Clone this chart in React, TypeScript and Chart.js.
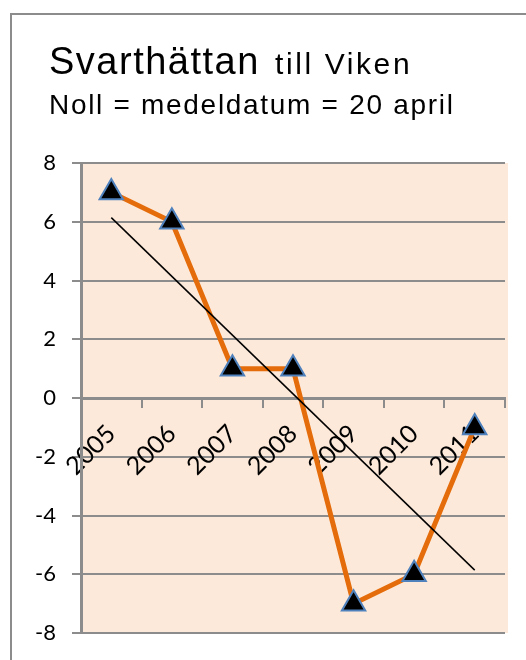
import React, { useEffect, useRef } from "react";
import { Chart, registerables } from "chart.js";

Chart.register(...registerables);

const categories = ["2005", "2006", "2007", "2008", "2009", "2010", "2011"];
const values = [7, 6, 1, 1, -7, -6, -1];
const trendStart = 6.14;
const trendEnd = -5.86;
const trendValues = [trendStart, null, null, null, null, null, trendEnd];
const yMin = -8;
const yMax = 8;
const yStep = 2;
const titleMain = "Svarthättan";
const titleRest = "till Viken";
const subtitle = "Noll = medeldatum = 20 april";

const GRID = "#8c8c8c";

const decorPlugin = {
  id: "decor",
  beforeDraw(chart: any) {
    const { ctx, chartArea } = chart;
    ctx.save();
    ctx.fillStyle = "#ffffff";
    ctx.fillRect(0, 0, chart.width, chart.height);
    // frame
    ctx.fillStyle = GRID;
    ctx.fillRect(10, 13, 2, chart.height);
    ctx.fillRect(10, 13, chart.width, 2);
    // plot background
    ctx.fillStyle = "#FDE9D9";
    ctx.fillRect(chartArea.left, chartArea.top, chartArea.right - chartArea.left + 3, chartArea.bottom - chartArea.top);
    // titles
    ctx.fillStyle = "#000000";
    ctx.textBaseline = "alphabetic";
    ctx.textAlign = "left";
    ctx.font = "38px 'Liberation Sans', Arial, sans-serif";
    (ctx as any).letterSpacing = "1.5px";
    ctx.fillText(titleMain, 49, 74);
    ctx.font = "30px 'Liberation Sans', Arial, sans-serif";
    (ctx as any).letterSpacing = "2.6px";
    ctx.fillText(titleRest, 275, 74);
    ctx.font = "28px 'Liberation Sans', Arial, sans-serif";
    (ctx as any).letterSpacing = "1.7px";
    ctx.fillText(subtitle, 49, 114);
    (ctx as any).letterSpacing = "0px";
    ctx.restore();
  },
};

export default function App() {
  const ref = useRef<HTMLCanvasElement | null>(null);
  useEffect(() => {
    if (!ref.current) return;
    const chart = new Chart(ref.current, {
      type: "line",
      data: {
        labels: categories,
        datasets: [
          {
            label: "Trend",
            data: trendValues,
            borderColor: "#000000",
            borderWidth: 1.5,
            pointRadius: 0,
            spanGaps: true,
            fill: false,
          },
          {
            label: "Svarthättan",
            data: values,
            borderColor: "#E46C0A",
            borderWidth: 5,
            pointStyle: "triangle",
            pointRadius: 13.5,
            pointBackgroundColor: "#000000",
            pointBorderColor: "#4F81BD",
            pointBorderWidth: 2,
            tension: 0,
            fill: false,
          },
        ],
      },
      options: {
        animation: false,
        responsive: false,
        maintainAspectRatio: false,
        layout: { padding: { top: 163, right: 21, bottom: 27, left: 0 } },
        plugins: {
          legend: { display: false },
          tooltip: { enabled: false },
          title: { display: false },
        },
        scales: {
          x: {
            type: "category",
            position: { y: 0 } as any,
            offset: true,
            grid: {
              offset: true,
              drawOnChartArea: false,
              drawTicks: true,
              tickLength: 8,
              color: GRID,
              lineWidth: 2,
            },
            border: { display: true, color: GRID, width: 3 },
            ticks: {
              minRotation: 45,
              maxRotation: 45,
              autoSkip: false,
              padding: 13,
              color: "#000000",
              font: { family: "Lato", size: 25 },
            },
            afterFit(scale: any) {
              scale.paddingLeft = 0;
              scale.paddingRight = 0;
              scale.paddingTop = 0;
              scale.paddingBottom = 0;
            },
          },
          y: {
            min: yMin,
            max: yMax,
            ticks: {
              stepSize: yStep,
              padding: 16,
              color: "#000000",
              font: { family: "Lato", size: 22 },
            },
            grid: { color: GRID, lineWidth: 2, tickLength: 9 },
            border: { display: true, color: GRID, width: 3 },
            afterFit(scale: any) {
              scale.width = 81;
              scale.paddingTop = 0;
              scale.paddingBottom = 0;
            },
          },
        },
      },
      plugins: [decorPlugin],
    });
    return () => chart.destroy();
  }, []);
  return (
    <div style={{ position: "fixed", left: 0, top: 0, width: 526, height: 660, overflow: "hidden", background: "#fff" }}>
      <canvas ref={ref} width={526} height={660} style={{ display: "block", width: 526, height: 660 }} />
    </div>
  );
}
